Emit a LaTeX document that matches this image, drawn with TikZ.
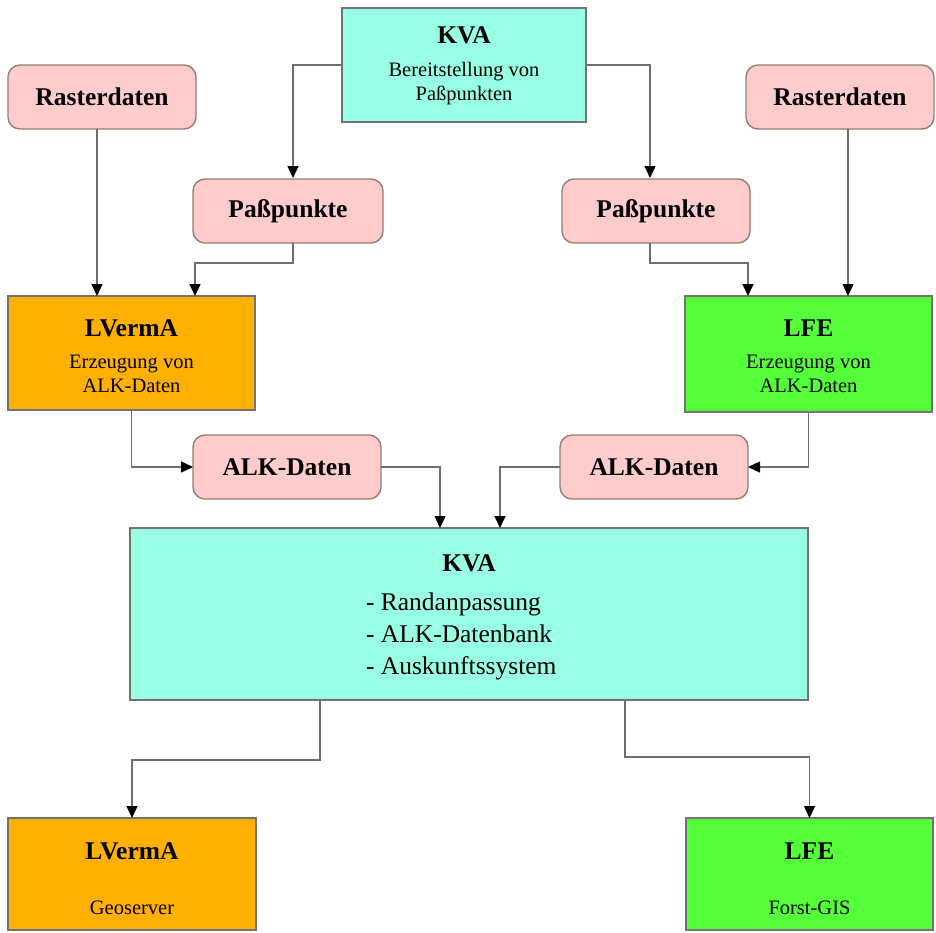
\documentclass[tikz,border=0pt]{standalone}
\usepackage{fontspec}
\setmainfont{Liberation Serif}
\usetikzlibrary{arrows.meta,calc}
\definecolor{cyanbox}{RGB}{153,255,228}
\definecolor{pinkbox}{RGB}{255,204,204}
\definecolor{orangebox}{RGB}{255,176,0}
\definecolor{greenbox}{RGB}{84,255,58}
\definecolor{conn}{RGB}{110,110,110}
\tikzset{
  every node/.style={inner sep=0pt, outer sep=0pt},
  sqbox/.style={draw=black!55, line width=1.4pt, rectangle},
  rbox/.style={draw=black!40!pinkbox, line width=1.4pt, rectangle, rounded corners=12pt, fill=pinkbox,
    minimum width=188pt, minimum height=64pt, font=\fontsize{25.5}{30}\selectfont\bfseries},
  title/.style={font=\fontsize{25.5}{30}\selectfont\bfseries},
  sub/.style={font=\fontsize{20.5}{25}\selectfont, align=center},
  listtxt/.style={font=\fontsize{25.5}{32}\selectfont, align=left},
  conn/.style={draw=conn, line width=1.4pt, -{Triangle[length=12pt,width=11pt,color=black,fill=black]}},
}
\begin{document}
\begin{tikzpicture}[x=1pt,y=-1pt]
\useasboundingbox (0,0) rectangle (936,932);
% boxes
\node[sqbox, fill=cyanbox, minimum width=244pt, minimum height=114pt] (kva1) at (464,65) {};
\node[rbox] (ras1) at (102,97) {Rasterdaten};
\node[rbox] (ras2) at (840,97) {Rasterdaten};
\node[rbox, minimum width=190pt] (pp1) at (288,211) {Paßpunkte};
\node[rbox] (pp2) at (656,211) {Paßpunkte};
\node[sqbox, fill=orangebox, minimum width=247pt, minimum height=114pt] (lv1) at (131.5,353) {};
\node[sqbox, fill=greenbox, minimum width=247pt, minimum height=116pt] (lfe1) at (808.5,354) {};
\node[rbox] (alk1) at (287,467) {ALK-Daten};
\node[rbox] (alk2) at (654,467) {ALK-Daten};
\node[sqbox, fill=cyanbox, minimum width=678pt, minimum height=172pt] (kvab) at (469,614) {};
\node[sqbox, fill=orangebox, minimum width=248pt, minimum height=112pt] (lv2) at (132,874) {};
\node[sqbox, fill=greenbox, minimum width=247pt, minimum height=112pt] (lfe2) at (809.5,874) {};
% texts
\node[title] (t1) at (464,35) {KVA};
\node[sub] (t2) at (464,84) {Bereitstellung von\\[-1pt]Paßpunkten};
\node[title] (t3) at (131.5,328) {LVermA};
\node[sub] (t4) at (131.5,374) {Erzeugung von\\[-1pt]ALK-Daten};
\node[title] (t5) at (808.5,328) {LFE};
\node[sub] (t6) at (808.5,374) {Erzeugung von\\[-1pt]ALK-Daten};
\node[title] (t7) at (469,563) {KVA};
\node[listtxt, anchor=west] (t8) at (366,636) {- Randanpassung\\- ALK-Datenbank\\- Auskunftssystem};
\node[title] (t9) at (132,851) {LVermA};
\node[sub] (t10) at (132,908) {Geoserver};
\node[title] (t11) at (809.5,851) {LFE};
\node[sub] (t12) at (809.5,908) {Forst-GIS};
% helper coordinates
\coordinate (lvin2) at (195,296);
\coordinate (lfein1) at (748,296);
\coordinate (kin1) at (440,528);
\coordinate (kin2) at (500,528);
\coordinate (kout1) at (320,700);
\coordinate (kout2) at (625,700);
\coordinate (pp1in) at (293,178);
\coordinate (pp2in) at (650,178);
% connectors
\draw[conn] (kva1.west) -| (pp1in);
\draw[conn] (kva1.east) -| (pp2in);
\draw[conn] (ras1.south -| 97,0) -- (lv1.north -| 97,0);
\draw[conn] (ras2.south -| 848,0) -- (lfe1.north -| 848,0);
\draw[conn] (pp1.south -| 293,0) -- ++(0,20) -| (lvin2);
\draw[conn] (pp2.south -| 650,0) -- ++(0,20) -| (lfein1);
\draw[conn] (lv1.south) |- (alk1.west);
\draw[conn] (lfe1.south) |- (alk2.east);
\draw[conn] (alk1.east) -| (kin1);
\draw[conn] (alk2.west) -| (kin2);
\draw[conn] (kout1) -- ++(0,60) -| (lv2.north);
\draw[conn] (kout2) -- ++(0,57) -| (lfe2.north);
\end{tikzpicture}
\end{document}
